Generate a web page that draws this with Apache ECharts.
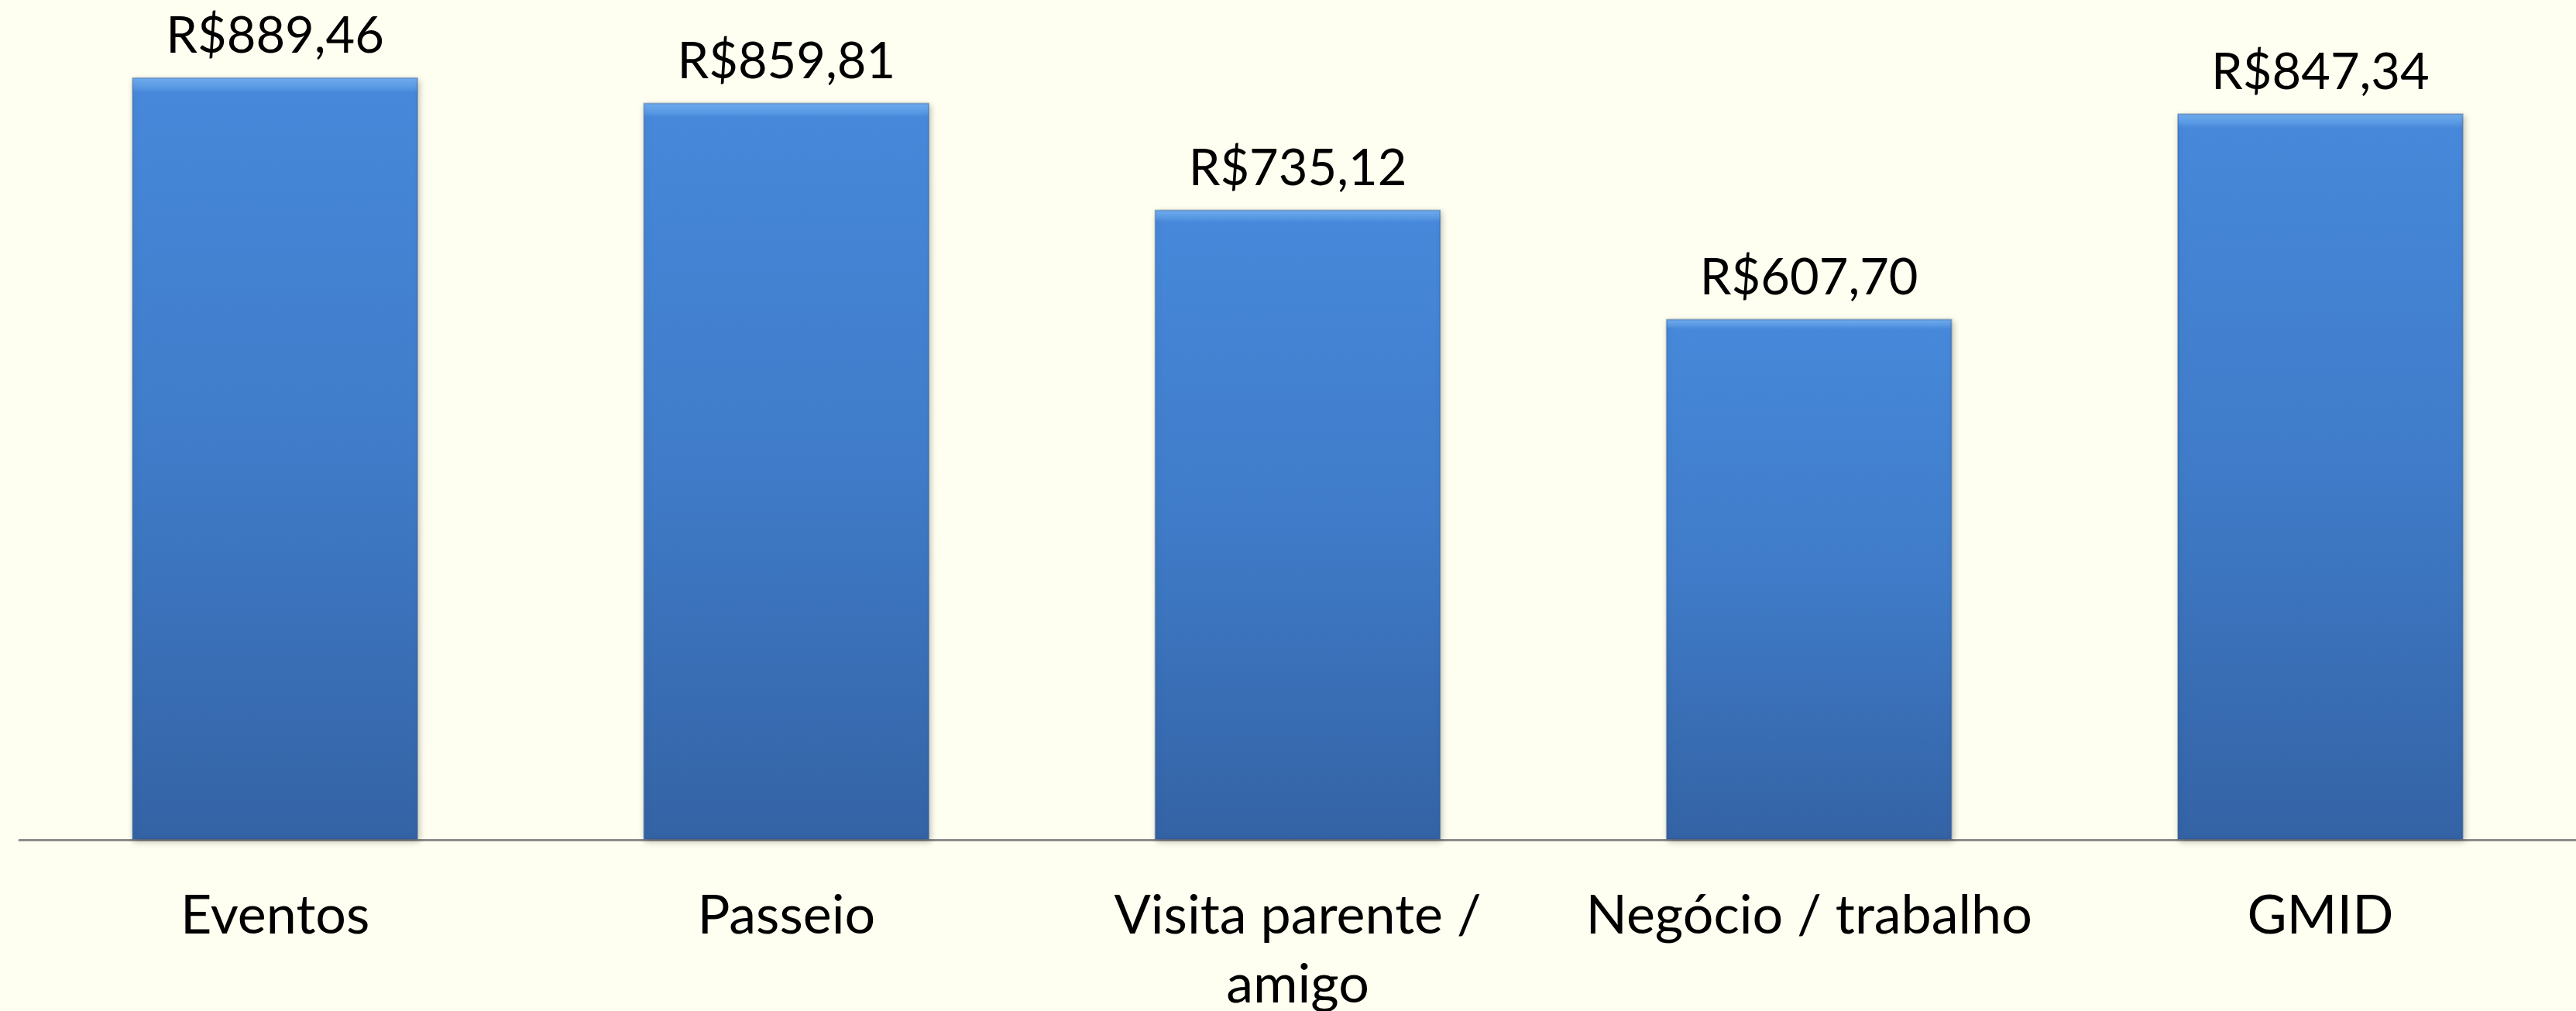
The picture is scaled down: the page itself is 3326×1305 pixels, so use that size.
<!DOCTYPE html>
<html>
<head>
<meta charset="utf-8">
<script src="https://cdn.jsdelivr.net/npm/echarts@6/dist/echarts.min.js"></script>
<style>
html,body{margin:0;padding:0;background:#FEFFF0;}
#chart{width:3326px;height:1305px;}
</style>
</head>
<body>
<div id="chart"></div>
<script>
const categories = ["Eventos", "Passeio", "Visita parente /\namigo", "Negócio / trabalho", "GMID"];
const values = [889.46, 859.81, 735.12, 607.70, 847.34];

const fmt = v => "R$" + v.toFixed(2).replace(".", ",");

const chart = echarts.init(document.getElementById("chart"));
chart.setOption({
  backgroundColor: "#FEFFF0",
  animation: false,
  grid: { left: 25, right: 0, top: 88, bottom: 221, containLabel: false, outerBoundsMode: "none" },
  xAxis: {
    type: "category",
    data: categories,
    axisLine: { show: true, lineStyle: { color: "#8C8C8C", width: 3 } },
    axisTick: { show: false },
    axisLabel: {
      interval: 0,
      margin: 54,
      fontFamily: "Lato",
      fontSize: 70,
      lineHeight: 89,
      color: "#000000",
      verticalAlign: "top"
    }
  },
  yAxis: {
    type: "value",
    min: 0,
    max: 900,
    show: false,
    splitLine: { show: false }
  },
  series: [{
    type: "bar",
    data: values,
    barCategoryGap: "44%",
    itemStyle: {
      color: {
        type: "linear", x: 0, y: 0, x2: 0, y2: 1,
        colorStops: [
          { offset: 0, color: "#74B0F2" },
          { offset: 0.012, color: "#5C9CE6" },
          { offset: 0.02, color: "#4788DA" },
          { offset: 0.5, color: "#3F7BC8" },
          { offset: 1, color: "#3463A5" }
        ]
      },
      borderColor: "rgba(40,80,140,0.35)",
      borderWidth: 2,
      shadowColor: "rgba(0,0,0,0.25)",
      shadowBlur: 8,
      shadowOffsetX: 2,
      shadowOffsetY: 3
    },
    label: {
      show: true,
      position: "top",
      distance: 20,
      fontFamily: "Lato",
      fontSize: 65,
      color: "#000000",
      formatter: p => fmt(p.value)
    }
  }]
});
</script>
</body>
</html>
